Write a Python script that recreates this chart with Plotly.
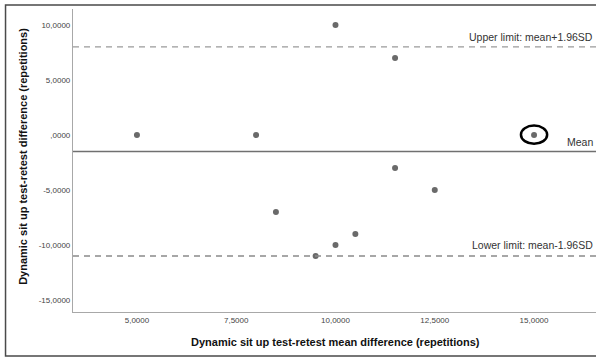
import plotly.graph_objects as go

# Bland-Altman data: mean of test/retest (x) vs. test-retest difference (y)
mean_reps = [5.0, 8.0, 10.0, 11.5, 11.5, 8.5, 9.5, 10.0, 10.5, 12.5, 15.0]
diff_reps = [0.0, 0.0, 10.0, 7.0, -3.0, -7.0, -11.0, -10.0, -9.0, -5.0, 0.0]

# Reference lines
mean_diff = -1.5
upper_limit = 8.0
lower_limit = -11.0

# Highlighted observation
flagged_x = 15.0
flagged_y = 0.0

x_tickvals = [5.0, 7.5, 10.0, 12.5, 15.0]
x_ticktext = ["5,0000", "7,5000", "10,0000", "12,5000", "15,0000"]
y_tickvals = [10.0, 5.0, 0.0, -5.0, -10.0, -15.0]
y_ticktext = ["10,0000", "5,0000", ",0000", "-5,0000", "-10,0000", "-15,0000"]

FONT = "Liberation Sans, Arial, sans-serif"

fig = go.Figure()
fig.add_trace(go.Scatter(
    x=mean_reps, y=diff_reps, mode="markers",
    marker=dict(size=6, color="#6a6a6a"),
    hoverinfo="x+y", showlegend=False,
))

shapes = [
    dict(type="line", xref="paper", x0=0, x1=1, yref="y", y0=upper_limit, y1=upper_limit,
         line=dict(color="#9a9a9a", width=1.3, dash="6px,5px")),
    dict(type="line", xref="paper", x0=0, x1=1, yref="y", y0=lower_limit, y1=lower_limit,
         line=dict(color="#8a8a8a", width=1.3, dash="6px,5px")),
    dict(type="line", xref="paper", x0=0, x1=1, yref="y", y0=mean_diff, y1=mean_diff,
         line=dict(color="#707070", width=1.6)),
    dict(type="circle", xref="x", yref="y",
         x0=flagged_x - 0.33, x1=flagged_x + 0.33,
         y0=flagged_y - 0.8, y1=flagged_y + 0.85,
         line=dict(color="black", width=2.5)),
    # outer frame
    dict(type="rect", xref="paper", yref="paper",
         x0=-0.129, x1=1.02, y0=-0.145, y1=1.0132,
         line=dict(color="#4a4a4a", width=1.5)),
]

label_font = dict(family=FONT, size=10.5, color="#333333")
title_font = dict(family=FONT, size=11, color="#111111")
annotations = [
    dict(text="Upper limit: mean+1.96SD", xref="paper", x=1, xanchor="right", xshift=-1,
         yref="y", y=upper_limit, yanchor="bottom", yshift=2, showarrow=False, font=label_font),
    dict(text="Mean", xref="paper", x=1, xanchor="right", xshift=-1,
         yref="y", y=mean_diff, yanchor="bottom", yshift=1, showarrow=False, font=label_font),
    dict(text="Lower limit: mean-1.96SD", xref="paper", x=1, xanchor="right", xshift=-1,
         yref="y", y=lower_limit, yanchor="bottom", yshift=3, showarrow=False, font=label_font),
    dict(text="<b>Dynamic sit up test-retest mean difference (repetitions)</b>",
         xref="paper", x=0.501, xanchor="center", yref="paper", y=-0.098, yanchor="middle",
         showarrow=False, font=title_font),
    dict(text="<b>Dynamic sit up test-retest difference (repetitions)</b>",
         xref="paper", x=-0.0956, xanchor="center", yref="paper", y=0.512, yanchor="middle",
         textangle=-90, showarrow=False, font=title_font),
]

fig.update_layout(
    width=596, height=358,
    margin=dict(l=73, r=0, t=9, b=46),
    paper_bgcolor="white", plot_bgcolor="white",
    showlegend=False,
    shapes=shapes,
    annotations=annotations,
    xaxis=dict(
        range=[3.39, 16.56], tickvals=x_tickvals, ticktext=x_ticktext,
        showgrid=False, zeroline=False, showline=True, linecolor="#a8a8a8", linewidth=1.2,
        ticks="", tickfont=dict(family=FONT, size=8, color="#444444"),
    ),
    yaxis=dict(
        range=[-16.09, 11.45], tickvals=y_tickvals, ticktext=y_ticktext,
        showgrid=False, zeroline=False, showline=True, linecolor="#a8a8a8", linewidth=1.2,
        ticks="", tickfont=dict(family=FONT, size=8, color="#444444"),
    ),
)

fig.write_html("out.html")
